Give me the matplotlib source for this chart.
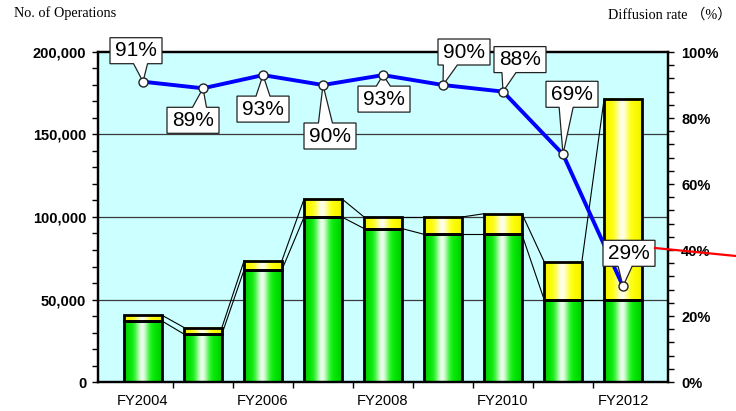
import numpy as np
import matplotlib
matplotlib.use("Agg")
import matplotlib.pyplot as plt
import matplotlib.colors as mcolors
from matplotlib.patches import Polygon
from matplotlib.lines import Line2D
from matplotlib.ticker import MultipleLocator, FuncFormatter
from matplotlib.transforms import ScaledTranslation

years = ["FY2004", "FY2005", "FY2006", "FY2007", "FY2008",
         "FY2009", "FY2010", "FY2011", "FY2012"]
green = [37000, 29000, 68000, 100000, 93000, 89500, 89500, 50000, 50000]
yellow = [3500, 4000, 5500, 11000, 7000, 10500, 12500, 23000, 121500]
rate = [91, 89, 93, 90, 93, 90, 88, 69, 29]

# callout box centre relative to its point, in pixels (y up)
label_offsets = [(-7, 31), (-10, -32), (0, -34), (7, -51), (1, -24),
                 (21, 33), (17, 32), (9, 60), (6, 33)]

BAR_W = 0.63
SANS = "Liberation Sans"
SERIF = ["Liberation Serif", "Noto Sans CJK JP"]


def gradient(base, edge, n=80):
    t = np.linspace(0, 1, n)
    w = 0.92 * np.exp(-((t - 0.48) / 0.17) ** 2)
    d = np.abs(t - 0.5) * 2
    c = np.array(mcolors.to_rgb(base))
    e = np.array(mcolors.to_rgb(edge))
    col = c[None, :] * (1 - d[:, None] ** 3) + e[None, :] * d[:, None] ** 3
    rgb = col * (1 - w[:, None]) + w[:, None]
    return rgb[None, :, :]


def shaded_bars(ax, x, heights, bottoms, base, edge):
    img = gradient(base, edge)
    for xi, h, b in zip(x, heights, bottoms):
        ax.imshow(img, extent=(xi - BAR_W / 2, xi + BAR_W / 2, b, b + h),
                  aspect="auto", interpolation="bilinear", zorder=2)
    ax.bar(x, heights, bottom=bottoms, width=BAR_W, fill=False,
           edgecolor="black", linewidth=2.0, zorder=3)


def series_lines(ax, x, tops):
    for i in range(len(x) - 1):
        ax.plot([x[i] + BAR_W / 2, x[i + 1] - BAR_W / 2], [tops[i], tops[i + 1]],
                color="black", linewidth=0.8, zorder=3)


def callout(ax, fig, x, y, text, dx, dy, w=52, h=26):
    l, r, b, t = dx - w / 2, dx + w / 2, dy - h / 2, dy + h / 2
    bc = np.clip(dx * 0.35, l + 9, r - 9)
    hw = 7
    if dy > 0:
        verts = [(l, b), (bc - hw, b), (0, 0), (bc + hw, b), (r, b), (r, t), (l, t)]
    else:
        verts = [(l, t), (bc - hw, t), (0, 0), (bc + hw, t), (r, t), (r, b), (l, b)]
    trans = fig.dpi_scale_trans + ScaledTranslation(x, y, ax.transData)
    ax.add_patch(Polygon(np.array(verts) / fig.dpi, closed=True, facecolor="white",
                         edgecolor="#222222", linewidth=0.9, transform=trans,
                         clip_on=False, zorder=6))
    ax.text(dx / fig.dpi, dy / fig.dpi, text, transform=trans, ha="center",
            va="center", fontsize=15, family=SANS, color="black",
            zorder=7, clip_on=False)


fig = plt.figure(figsize=(7.36, 4.11), dpi=100)
ax = fig.add_axes([98 / 736, 29 / 411, 570 / 736, 330 / 411])
ax.set_facecolor("#ccffff")

x = np.arange(len(years))
totals = [g + y for g, y in zip(green, yellow)]

for v in (50000, 100000, 150000):
    ax.axhline(v, color="#3a3a3a", linewidth=0.9, zorder=1)

shaded_bars(ax, x, green, [0] * len(x), "#00f000", "#00c800")
shaded_bars(ax, x, yellow, green, "#ffff00", "#f0f000")
series_lines(ax, x, green)
series_lines(ax, x, totals)
ax.set_xlim(-0.75, len(years) - 0.25)
ax.set_ylim(0, 200000)

for s in ax.spines.values():
    s.set_linewidth(1.6)
ax.yaxis.set_major_locator(MultipleLocator(50000))
ax.yaxis.set_minor_locator(MultipleLocator(10000))
ax.yaxis.set_major_formatter(FuncFormatter(lambda v, p: f"{v:,.0f}"))
ax.tick_params(axis="y", which="both", direction="out", length=4.5, width=1,
               pad=4)
ax.set_xticks(x)
ax.set_xticklabels([y if i % 2 == 0 else "" for i, y in enumerate(years)])
ax.set_xticks(x[:-1] + 0.5, minor=True)
ax.tick_params(axis="x", which="major", length=0, pad=8.5)
ax.tick_params(axis="x", which="minor", direction="out", length=4, width=1)
for lbl in ax.get_yticklabels():
    lbl.set_fontfamily(SANS)
    lbl.set_fontweight("bold")
    lbl.set_fontsize(10.5)
for lbl in ax.get_xticklabels():
    lbl.set_fontfamily(SANS)
    lbl.set_fontsize(10.5)

ax2 = ax.twinx()
ax2.set_ylim(0, 100)
ax2.set_xlim(ax.get_xlim())
for s in ax2.spines.values():
    s.set_linewidth(1.6)
ax2.yaxis.set_major_locator(MultipleLocator(20))
ax2.yaxis.set_minor_locator(MultipleLocator(4))
ax2.yaxis.set_major_formatter(FuncFormatter(lambda v, p: f"{v:.0f}%"))
ax2.tick_params(axis="y", which="both", direction="out", length=4.5, width=1,
                pad=5)
for lbl in ax2.get_yticklabels():
    lbl.set_fontfamily(SANS)
    lbl.set_fontweight("bold")
    lbl.set_fontsize(10.5)

ax2.plot(x, rate, color="#0000ff", linewidth=2.8, zorder=4)
for xi, r, (dx, dy) in zip(x, rate, label_offsets):
    callout(ax2, fig, xi, r, f"{r}%", dx, dy)
ax2.plot(x, rate, linestyle="none", marker="o", markersize=6.5,
         markerfacecolor="white", markeredgecolor="#222222",
         markeredgewidth=1, zorder=8)

fig.text(14 / 736, 1 - 17 / 411, "No. of Operations", family=SERIF,
         fontsize=10.3, va="baseline", ha="left")
fig.text(732 / 736, 1 - 19 / 411, "Diffusion rate （%）", family=SERIF,
         fontsize=10.3, va="baseline", ha="right")

# stray red stroke running off the right edge
fig.add_artist(Line2D([655 / 736, 1.0], [1 - 248 / 411, 1 - 256 / 411],
                      color="#ff0000", linewidth=1.6, zorder=10))

fig.savefig("out.png", dpi=100)
plt.close(fig)
